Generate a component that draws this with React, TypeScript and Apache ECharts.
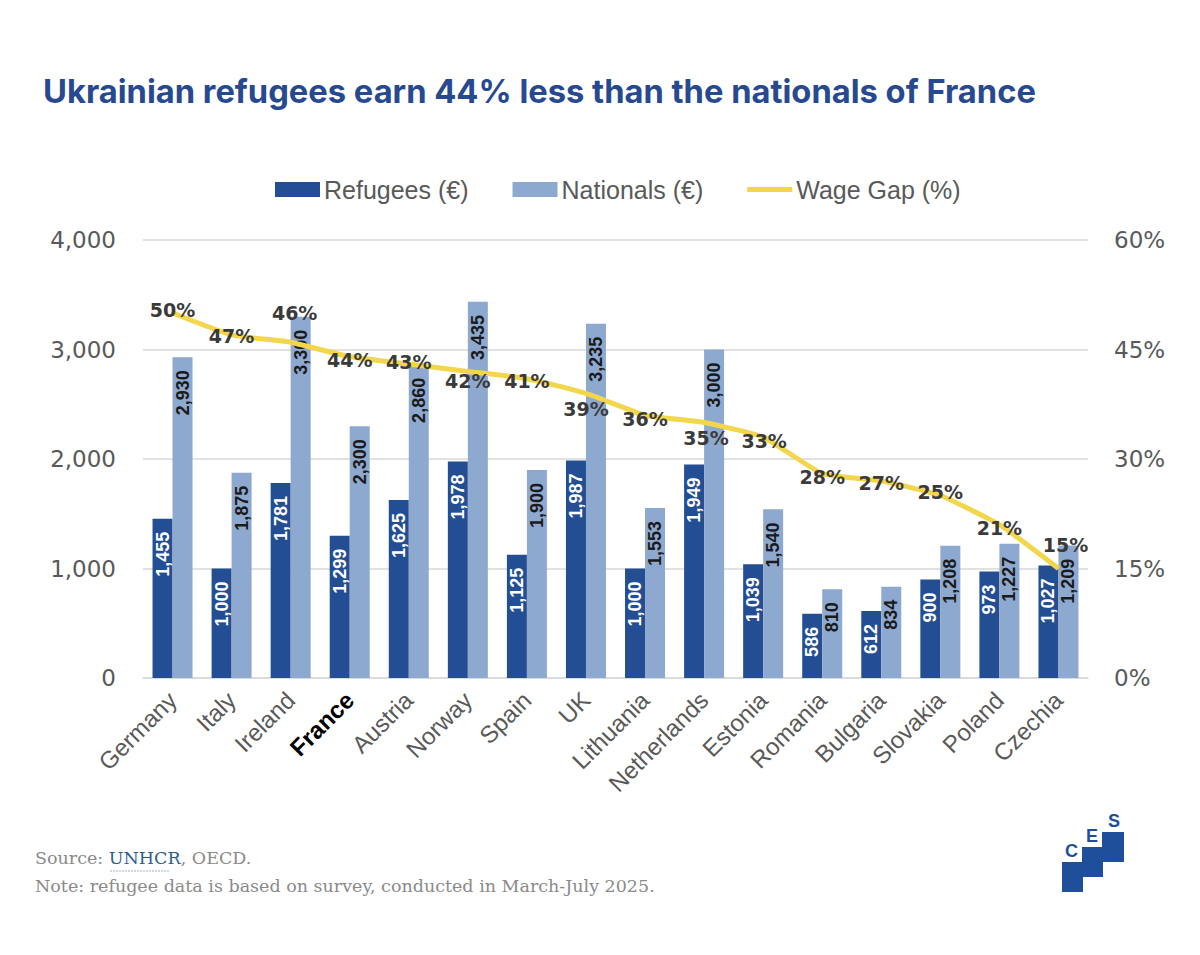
import React, { useEffect, useRef } from "react";
import * as echarts from "echarts";

const categories = [
  "Germany", "Italy", "Ireland", "France", "Austria", "Norway", "Spain", "UK",
  "Lithuania", "Netherlands", "Estonia", "Romania", "Bulgaria", "Slovakia", "Poland", "Czechia",
];
const refugees = [1455, 1000, 1781, 1299, 1625, 1978, 1125, 1987, 1000, 1949, 1039, 586, 612, 900, 973, 1027];
const nationals = [2930, 1875, 3300, 2300, 2860, 3435, 1900, 3235, 1553, 3000, 1540, 810, 834, 1208, 1227, 1209];
const wageGap = [50, 47, 46, 44, 43, 42, 41, 39, 36, 35, 33, 28, 27, 25, 21, 15];
const leftTicks = [0, 1000, 2000, 3000, 4000];
const rightTicks = [0, 15, 30, 45, 60];

// label nudges for the wage gap labels (pixels, relative to the point)
const gapLabelNudges: number[][] = [
  [0, -3], [0, 1], [4, -29], [0, 3], [0, -2], [0, 10], [0, 2], [0, 16],
  [0, 4], [2, 15], [1, 4], [0, 3], [0, 2], [0, -4], [0, 3], [7, -24],
];

const TITLE = "Ukrainian refugees earn 44% less than the nationals of France";
const FONT = "'Liberation Sans', Arial, sans-serif";
const WIDE = "'DejaVu Sans', sans-serif";
const SERIF = "'DejaVu Serif', serif";
const DARK = "#234E94";
const LIGHT = "#8EA9CF";
const YELLOW = "#F2D64B";
const GRAY = "#595959";
const LINE_ICON = "path://M0,0L0.01,0L0,0.01Z M0,5H45V10H0Z M0,15L0.01,15L0,14.99Z";

const fmt = (v: number) => v.toLocaleString("en-US");

export default function App() {
  const ref = useRef<HTMLDivElement>(null);
  useEffect(() => {
    if (!ref.current) return;
    const chart = echarts.init(ref.current, undefined, { renderer: "svg" });
    const gapLabel = {
      show: true,
      fontSize: 19,
      fontWeight: "bold",
      fontFamily: WIDE,
      color: "#3a3a3a",
      align: "center",
      verticalAlign: "middle",
      formatter: (p: any) => `${p.value}%`,
    };
    const option: any = {
      animation: false,
      backgroundColor: "#ffffff",
      textStyle: { fontFamily: FONT },
      title: {
        text: TITLE,
        left: 38,
        top: 69,
        textStyle: { fontFamily: "Inter, sans-serif", fontSize: 32.7, fontWeight: "bold", color: "#27498F" },
      },
      legend: {
        top: 172,
        left: 270,
        itemWidth: 45,
        itemHeight: 15,
        itemGap: 44,
        textStyle: { fontSize: 25, color: GRAY, fontFamily: FONT, padding: [0, 0, 0, -1] },
        data: [
          { name: "Refugees (€)", icon: "rect" },
          { name: "Nationals (€)", icon: "rect" },
          { name: "Wage Gap (%)", icon: LINE_ICON },
        ],
      },
      grid: { left: 143, right: 112, top: 240, bottom: 277, containLabel: false },
      xAxis: {
        type: "category",
        data: categories,
        axisTick: { show: false },
        axisLine: { show: true, lineStyle: { color: "#D9D9D9", width: 1.5 } },
        axisLabel: {
          interval: 0,
          rotate: 45,
          margin: 18,
          fontSize: 24,
          color: GRAY,
          fontFamily: FONT,
          formatter: (v: string) => (v === "France" ? `{b|${v}}` : v),
          rich: { b: { fontWeight: "bold", color: "#000", fontSize: 24, fontFamily: FONT } },
        },
      },
      yAxis: [
        {
          type: "value",
          min: leftTicks[0],
          max: leftTicks[leftTicks.length - 1],
          interval: leftTicks[1] - leftTicks[0],
          axisLine: { show: false },
          axisTick: { show: false },
          splitLine: { lineStyle: { color: "#D9D9D9", width: 1.5 } },
          axisLabel: { fontSize: 23, color: GRAY, margin: 27, fontFamily: WIDE, formatter: (v: number) => fmt(v) },
        },
        {
          type: "value",
          min: rightTicks[0],
          max: rightTicks[rightTicks.length - 1],
          interval: rightTicks[1] - rightTicks[0],
          axisLine: { show: false },
          axisTick: { show: false },
          splitLine: { show: false },
          axisLabel: { fontSize: 23, color: GRAY, margin: 26, fontFamily: WIDE, formatter: (v: number) => `${v}%` },
        },
      ],
      series: [
        {
          name: "Refugees (€)",
          type: "bar",
          data: refugees,
          barWidth: 20,
          barGap: "0%",
          itemStyle: { color: DARK },
          label: {
            show: true,
            position: "insideTop",
            rotate: 90,
            align: "right",
            verticalAlign: "middle",
            distance: 13,
            fontSize: 18,
            fontWeight: "bold",
            color: "#ffffff",
            formatter: (p: any) => fmt(p.value),
          },
        },
        {
          name: "Nationals (€)",
          type: "bar",
          data: nationals,
          barWidth: 20,
          barGap: "0%",
          itemStyle: { color: LIGHT },
          label: {
            show: true,
            position: "insideTop",
            rotate: 90,
            align: "right",
            verticalAlign: "middle",
            distance: 13,
            fontSize: 18,
            fontWeight: "bold",
            color: "#1a1a1a",
            formatter: (p: any) => fmt(p.value),
          },
        },
        {
          name: "Wage Gap (%)",
          type: "line",
          yAxisIndex: 1,
          symbol: "circle",
          symbolSize: 1,
          showSymbol: true,
          smooth: 0.15,
          lineStyle: { color: YELLOW, width: 5 },
          itemStyle: { color: YELLOW },
          z: 5,
          data: wageGap.map((v, i) => ({
            value: v,
            label: {
              ...gapLabel,
              position: [0.5 + gapLabelNudges[i][0], 0.5 + gapLabelNudges[i][1]],
            },
          })),
          label: gapLabel,
          labelLayout: { hideOverlap: false },
        },
      ],
      graphic: [
        {
          type: "text",
          left: 35,
          top: 849,
          style: {
            text: "{g|Source: }{l|UNHCR}{g|, OECD.}",
            rich: {
              g: { fontFamily: SERIF, fontSize: 17.5, fill: "#8a8a8a" },
              l: { fontFamily: SERIF, fontSize: 17.5, fill: "#2E5E86" },
            },
          },
        },
        {
          type: "line",
          shape: { x1: 110, y1: 871, x2: 170, y2: 871 },
          style: { stroke: "#9DB6CC", lineWidth: 1, lineDash: [2, 1] },
        },
        {
          type: "text",
          left: 35,
          top: 877,
          style: {
            text: "Note: refugee data is based on survey, conducted in March-July 2025.",
            fontFamily: SERIF,
            fontSize: 17.5,
            fill: "#8a8a8a",
          },
        },
        {
          type: "group",
          left: 1062,
          top: 812,
          children: [
            { type: "rect", shape: { x: 0, y: 50, width: 21, height: 30 }, style: { fill: "#1F4E9A" } },
            { type: "rect", shape: { x: 20, y: 35, width: 21, height: 30 }, style: { fill: "#1F4E9A" } },
            { type: "rect", shape: { x: 40, y: 20, width: 22, height: 30 }, style: { fill: "#1F4E9A" } },
            { type: "text", x: 3, y: 30, style: { text: "C", fontFamily: FONT, fontWeight: "bold", fontSize: 18, fill: "#1F4E9A" } },
            { type: "text", x: 24, y: 15, style: { text: "E", fontFamily: FONT, fontWeight: "bold", fontSize: 18, fill: "#1F4E9A" } },
            { type: "text", x: 46, y: 0, style: { text: "S", fontFamily: FONT, fontWeight: "bold", fontSize: 18, fill: "#1F4E9A" } },
          ],
        },
      ],
    };
    chart.setOption(option);
    return () => chart.dispose();
  }, []);
  return (
    <div
      ref={ref}
      style={{ position: "absolute", left: 0, top: 0, width: 1200, height: 955, background: "#fff" }}
    />
  );
}
